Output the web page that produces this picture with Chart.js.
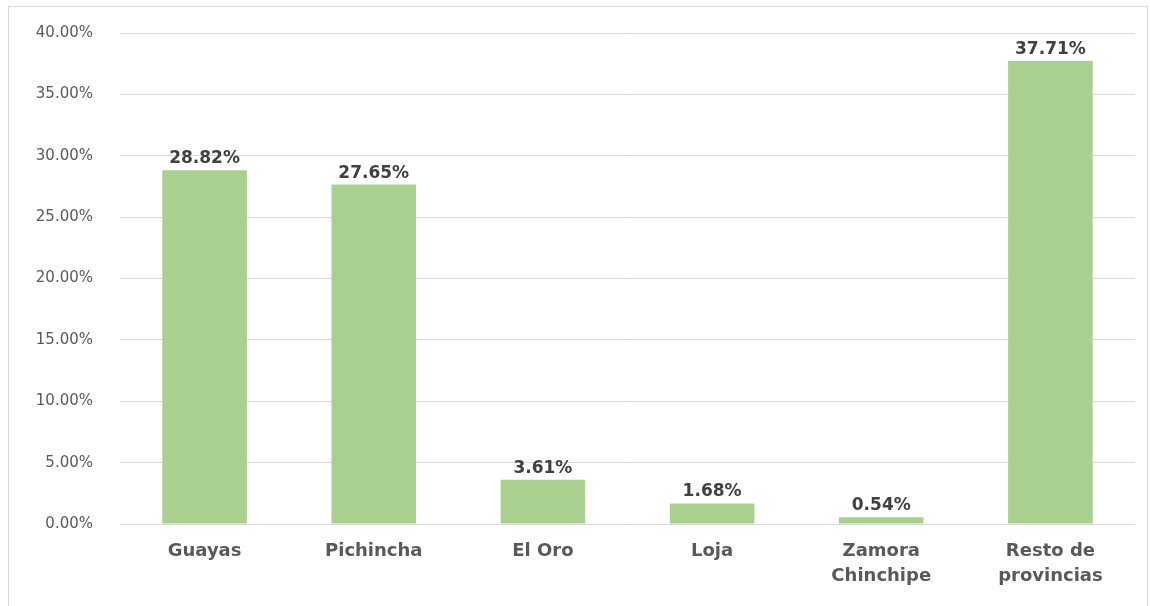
<!DOCTYPE html>
<html lang="es">
<head>
<meta charset="UTF-8">
<title>Provincias</title>
<script src="https://cdn.jsdelivr.net/npm/chart.js"></script>
<style>
  html, body { margin: 0; padding: 0; background: #fff; }
  #wrap { position: relative; width: 1150px; height: 606px; }
  #frame { position: absolute; left: 8px; top: 6px; width: 1140px; height: 610px; border: 1px solid #d9d9d9; box-sizing: border-box; }
  canvas { position: absolute; left: 0; top: 0; }
</style>
</head>
<body>
<div id="wrap">
  <div id="frame"></div>
  <canvas id="chart" width="1150" height="606"></canvas>
</div>
<script>
// data
const categories = ['Guayas', 'Pichincha', 'El Oro', 'Loja', ['Zamora', 'Chinchipe'], ['Resto de', 'provincias']];
const shares = [28.82, 27.65, 3.61, 1.68, 0.54, 37.71];
const yMax = 40;
const yStep = 5;

const valueLabels = {
  id: 'valueLabels',
  afterDatasetsDraw(chart) {
    const ctx = chart.ctx;
    const meta = chart.getDatasetMeta(0);
    ctx.save();
    ctx.font = 'bold 17px "DejaVu Sans"';
    ctx.fillStyle = '#404040';
    ctx.textAlign = 'center';
    ctx.textBaseline = 'alphabetic';
    meta.data.forEach((bar, i) => {
      ctx.fillText(shares[i].toFixed(2) + '%', bar.x, bar.y - 7);
    });
    ctx.restore();
  }
};

new Chart(document.getElementById('chart'), {
  type: 'bar',
  data: {
    labels: categories,
    datasets: [{
      data: shares,
      backgroundColor: '#a9d08e',
      categoryPercentage: 1,
      barPercentage: 0.5
    }]
  },
  options: {
    responsive: false,
    animation: false,
    layout: { padding: { left: 0, right: 15, top: 33, bottom: 0 } },
    plugins: { legend: { display: false }, tooltip: { enabled: false } },
    scales: {
      x: {
        grid: { display: false },
        border: { display: false },
        ticks: {
          color: '#595959',
          font: { family: 'DejaVu Sans', size: 18, weight: 'bold', lineHeight: 1.4 },
          padding: 7,
          maxRotation: 0
        },
        afterFit(s) { s.height = 82; }
      },
      y: {
        min: 0,
        max: yMax,
        grid: { color: '#d9d9d9', lineWidth: 1, drawTicks: true, tickLength: 27, tickColor: 'rgba(0,0,0,0)' },
        border: { display: false },
        ticks: {
          stepSize: yStep,
          color: '#595959',
          font: { family: 'DejaVu Sans', size: 15 },
          padding: 0,
          callback: v => v.toFixed(2) + '%'
        },
        afterFit(s) { s.width = 120; }
      }
    }
  },
  plugins: [valueLabels]
});
</script>
</body>
</html>
